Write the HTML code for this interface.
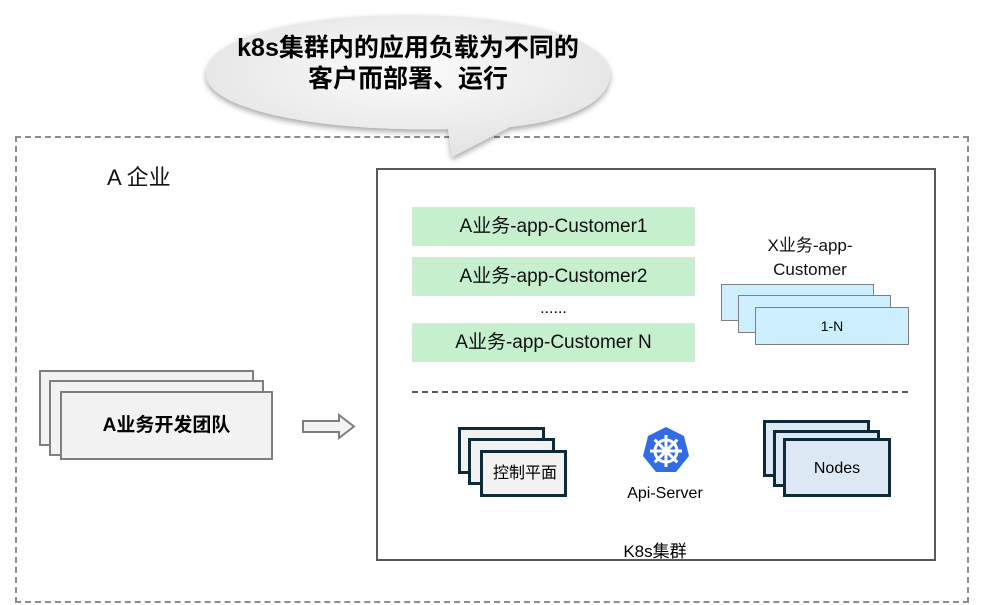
<!DOCTYPE html>
<html><head><meta charset="utf-8"><style>
body{margin:0;width:984px;height:605px;background:#fff;position:relative;overflow:hidden;font-family:"Liberation Sans","Noto Sans CJK SC",sans-serif;}
.a{position:absolute;box-sizing:border-box;}
.g{background:#c6efce;border:1px solid #d8e8d8;font-size:19px;color:#111;text-align:center;line-height:37px;}
.t{border:2px solid #7f7f7f;background:#f2f2f2;}
.c{border:3px solid #0d2a3a;background:#f2f2f2;}
.n{border:3px solid #0d2a3a;background:#dce9f5;}
.x{border:1px solid #7f7f7f;background:#cdeefc;}
</style></head><body>
<div class="a" style="left:15px;top:136px;width:954px;height:467px;border:2px dashed #8c8c8c;"></div>
<svg class="a" style="left:0;top:0" width="984" height="605">
<defs><radialGradient id="bg" cx="50%" cy="40%" r="60%"><stop offset="0" stop-color="#fbfbfb"/><stop offset="1" stop-color="#e3e3e3"/></radialGradient>
<filter id="sh"><feDropShadow dx="0" dy="3" stdDeviation="3" flood-color="#000" flood-opacity="0.35"/></filter></defs>
<path d="M408 15 C520 15 610 38 610 74 C610 105 560 122 510 127 L452 157 L448 129 C320 132 206 110 206 74 C206 38 296 15 408 15 Z" fill="url(#bg)" filter="url(#sh)"/>
</svg>
<div class="a" style="left:196px;top:33px;width:424px;text-align:center;font-size:25px;font-weight:bold;line-height:31px;color:#000;">k8s集群内的应用负载为不同的<br>客户而部署、运行</div>
<div class="a" style="left:107px;top:160px;font-size:22px;color:#111;">A 企业</div>
<div class="a" style="left:376px;top:168px;width:560px;height:393px;border:2px solid #595959;"></div>
<div class="a g" style="left:412px;top:207px;width:283px;height:39px;">A业务-app-Customer1</div>
<div class="a g" style="left:412px;top:257px;width:283px;height:39px;">A业务-app-Customer2</div>
<div class="a" style="left:412px;top:300px;width:283px;text-align:center;font-size:16px;">......</div>
<div class="a g" style="left:412px;top:323px;width:283px;height:39px;">A业务-app-Customer N</div>
<div class="a" style="left:730px;top:234px;width:160px;text-align:center;font-size:17px;line-height:24px;color:#111;">X业务-app-<br>Customer</div>
<div class="a x" style="left:721px;top:284px;width:153px;height:37px;"></div>
<div class="a x" style="left:738px;top:295px;width:153px;height:38px;"></div>
<div class="a x" style="left:755px;top:307px;width:154px;height:38px;text-align:center;line-height:36px;font-size:14px;">1-N</div>
<div class="a" style="left:412px;top:391px;width:496px;border-top:2px dashed #595959;"></div>
<div class="a t" style="left:39px;top:370px;width:215px;height:76px;"></div>
<div class="a t" style="left:49px;top:380px;width:215px;height:76px;"></div>
<div class="a t" style="left:60px;top:391px;width:213px;height:69px;text-align:center;line-height:66px;font-size:19px;font-weight:bold;">A业务开发团队</div>
<svg class="a" style="left:302px;top:413px" width="54" height="27"><path d="M1 8 H37 V2 L52 13.5 L37 25 V19 H1 Z" fill="#f2f2f2" stroke="#7f7f7f" stroke-width="2"/></svg>
<div class="a c" style="left:458px;top:427px;width:87px;height:47px;"></div>
<div class="a c" style="left:468px;top:438px;width:87px;height:47px;"></div>
<div class="a c" style="left:480px;top:450px;width:87px;height:47px;font-size:16px;line-height:42px;padding-left:10px;">控制平面</div>
<div class="a n" style="left:763px;top:420px;width:107px;height:57px;"></div>
<div class="a n" style="left:773px;top:430px;width:107px;height:57px;"></div>
<div class="a n" style="left:783px;top:438px;width:108px;height:59px;text-align:center;line-height:56px;font-size:16px;">Nodes</div>
<svg class="a" style="left:642px;top:426px" width="48" height="48" viewBox="0 0 48 48">
<polygon points="24,1 42,10 47,30 34,46 14,46 1,30 6,10" fill="#326ce5"/>
<g stroke="#fff" stroke-width="3" fill="none"><circle cx="24" cy="25" r="11"/>
<path d="M24 9V41M8 25H40M12.7 13.7L35.3 36.3M35.3 13.7L12.7 36.3"/></g>
<circle cx="24" cy="25" r="3" fill="#fff"/></svg>
<div class="a" style="left:600px;top:485px;width:130px;text-align:center;font-size:16px;">Api-Server</div>
<div class="a" style="left:580px;top:537px;width:150px;text-align:center;font-size:17px;">K8s集群</div>
</body></html>
